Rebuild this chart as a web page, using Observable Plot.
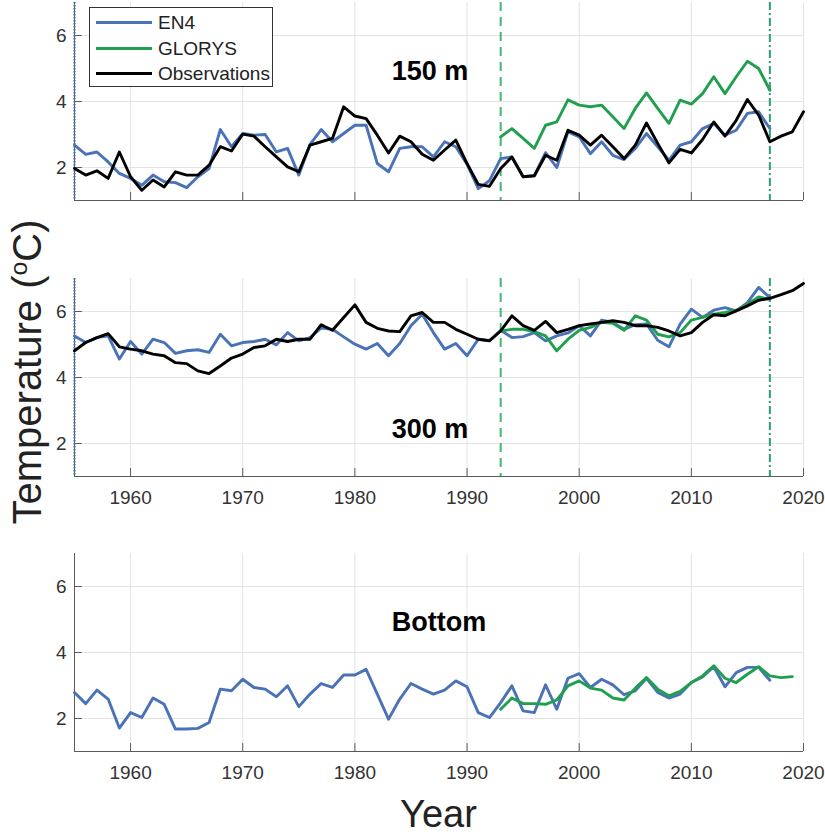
<!DOCTYPE html>
<html>
<head>
<meta charset="utf-8">
<script src="https://cdn.jsdelivr.net/npm/d3@7"></script>
<script src="https://cdn.jsdelivr.net/npm/@observablehq/plot@0.6"></script>
<style>
  body { margin: 0; background: #fff; }
  #fig { position: relative; width: 825px; height: 834px; overflow: hidden;
         font-family: "Liberation Sans", Arial, sans-serif; background: #fff; }
  .panel { position: absolute; left: 0; }
  #ylab { position: absolute; left: 27px; top: 372px; white-space: nowrap;
          font-size: 40px; color: #222; transform: translate(-50%, -50%) rotate(-90deg); }
  #ylab sup { font-size: 0.62em; vertical-align: 0.55em; line-height: 0; }
  #xlab { position: absolute; left: 74px; width: 729px; top: 795px; text-align: center;
          font-size: 38px; line-height: 1; color: #222; }
  #legend { position: absolute; left: 89px; top: 7px; width: 182px; height: 78px;
            border: 1px solid #333; background: #fff; }
  .entry { position: absolute; left: 0; height: 24px; font-size: 19px; color: #222; }
  .entry .swatch { position: absolute; left: 6px; top: 10px; width: 56px; height: 3px; }
  .entry .name { position: absolute; left: 68px; top: 1px; white-space: nowrap; line-height: 22px; }
</style>
</head>
<body>
<div id="fig">
  <div id="ylab">Temperature (<sup>o</sup>C)</div>
  <div id="xlab">Year</div>
</div>
<script>
// Annual series, 1955–2020
const years = [1955,1956,1957,1958,1959,1960,1961,1962,1963,1964,1965,1966,1967,1968,1969,
  1970,1971,1972,1973,1974,1975,1976,1977,1978,1979,1980,1981,1982,1983,1984,1985,1986,1987,
  1988,1989,1990,1991,1992,1993,1994,1995,1996,1997,1998,1999,2000,2001,2002,2003,2004,2005,
  2006,2007,2008,2009,2010,2011,2012,2013,2014,2015,2016,2017,2018,2019,2020];
const en4Years = years.slice(0, 63);          // 1955–2017
const glorysYears = years.slice(38, 63);      // 1993–2017
const glorysBottomYears = years.slice(38, 65);// 1993–2019

// 150 m
const en4_150 = [2.68,2.40,2.47,2.17,1.82,1.67,1.46,1.77,1.57,1.54,1.39,1.72,1.97,3.15,2.63,
  3.03,2.98,3.00,2.47,2.58,1.77,2.70,3.15,2.78,3.03,3.28,3.28,2.12,1.87,2.58,2.63,2.63,2.32,
  2.78,2.63,2.10,1.36,1.60,2.27,2.32,1.72,1.75,2.45,2.00,3.08,2.93,2.42,2.78,2.37,2.24,2.58,
  3.03,2.63,2.22,2.68,2.78,3.18,3.33,2.98,3.13,3.64,3.69,3.18];
const glorys_150 = [2.93,3.18,2.88,2.58,3.28,3.38,4.05,3.89,3.84,3.89,3.54,3.18,3.79,4.26,
  3.79,3.34,4.04,3.92,4.24,4.75,4.24,4.75,5.22,5.00,4.34];
const obs_150 = [1.97,1.77,1.90,1.67,2.47,1.72,1.31,1.62,1.41,1.87,1.77,1.77,2.07,2.63,2.50,
  3.01,2.95,2.63,2.32,2.02,1.87,2.68,2.78,2.88,3.84,3.56,3.48,2.98,2.44,2.95,2.78,2.40,2.22,
  2.53,2.83,2.12,1.49,1.43,1.97,2.32,1.72,1.75,2.37,2.22,3.13,2.98,2.68,2.98,2.63,2.27,2.68,
  3.35,2.73,2.14,2.55,2.44,2.85,3.38,2.95,3.43,4.06,3.59,2.78,2.95,3.08,3.69];

// 300 m
const en4_300 = [5.26,5.06,5.21,5.26,4.56,5.09,4.71,5.16,5.06,4.73,4.81,4.84,4.76,5.31,4.96,
  5.06,5.09,5.16,4.99,5.36,5.11,5.21,5.50,5.46,5.23,5.01,4.86,5.03,4.66,5.03,5.57,5.92,5.36,
  4.86,5.03,4.66,5.16,5.12,5.43,5.21,5.24,5.36,5.11,5.26,5.35,5.57,5.26,5.74,5.67,5.46,5.60,
  5.62,5.13,4.93,5.62,6.07,5.82,6.04,6.12,6.02,6.27,6.73,6.42];
const glorys_300 = [5.41,5.46,5.46,5.39,5.26,4.81,5.16,5.43,5.52,5.67,5.64,5.43,5.87,5.74,
  5.31,5.23,5.36,5.74,5.82,5.92,5.97,6.04,6.22,6.44,6.37];
const obs_300 = [4.81,5.06,5.21,5.33,4.93,4.86,4.81,4.71,4.66,4.45,4.42,4.20,4.12,4.35,4.59,
  4.71,4.91,4.96,5.16,5.09,5.16,5.16,5.60,5.43,5.82,6.20,5.67,5.49,5.41,5.39,5.87,5.97,5.67,
  5.67,5.46,5.31,5.16,5.11,5.41,5.87,5.57,5.43,5.70,5.36,5.46,5.57,5.62,5.67,5.72,5.67,5.57,
  5.57,5.52,5.41,5.26,5.36,5.67,5.90,5.87,6.02,6.17,6.34,6.40,6.51,6.63,6.85];

// Bottom
const en4_bottom = [2.79,2.45,2.86,2.59,1.71,2.18,2.03,2.62,2.43,1.68,1.68,1.70,1.88,2.89,2.84,
  3.19,2.94,2.89,2.66,2.99,2.36,2.74,3.06,2.94,3.32,3.32,3.49,2.74,1.98,2.59,3.06,2.89,2.74,
  2.86,3.14,2.96,2.18,2.03,2.48,2.99,2.23,2.18,3.02,2.28,3.22,3.36,2.94,3.19,3.02,2.72,2.84,
  3.22,2.79,2.62,2.74,3.09,3.26,3.57,2.96,3.39,3.55,3.55,3.16];
const glorys_bottom = [2.28,2.62,2.45,2.45,2.43,2.56,2.99,3.14,2.92,2.86,2.62,2.56,2.92,3.24,
  2.89,2.69,2.82,3.09,3.29,3.60,3.22,3.09,3.34,3.57,3.29,3.24,3.27];

const seriesNames = ["EN4", "GLORYS", "Observations"];
const xTicks = [1960, 1970, 1980, 1990, 2000, 2010, 2020];
const yTicks = [2, 4, 6];
const xDomain = [1955, 2020];
const yDomain = [1, 7];
const reanalysisStart = 1993;
const reanalysisEnd = 2017;

const COLORS = { EN4: "#4a72b6", GLORYS: "#20a04f", Observations: "#000000" };
const AXIS = "#5a5a5a";
const GRID = "#e3e3e3";
const FONT = '"Liberation Sans", Arial, sans-serif';

const zip = (ys, vs) => vs.map((v, i) => ({ year: ys[i], value: v }));

function panel({ top, height, marginTop, marginBottom, showXLabels, showMarkers,
                 en4, glorys, gYears, obs, label, labelAt }) {
  const marks = [
    Plot.gridX(xTicks, { stroke: GRID, strokeOpacity: 1 }),
    Plot.gridY(yTicks, { stroke: GRID, strokeOpacity: 1 }),
    Plot.ruleY([yDomain[0]], { stroke: AXIS }),
    Plot.ruleX([xDomain[0]], { stroke: AXIS }),
    // inward tick marks
    Plot.ruleX(xTicks, { y1: yDomain[0], y2: yDomain[0] + 0.24, stroke: AXIS }),
    Plot.ruleY(yTicks, { x1: xDomain[0], x2: xDomain[0] + 0.7, stroke: AXIS }),
    Plot.axisY(yTicks, { tickSize: 0, tickPadding: 8, fontSize: 19, fill: "#333", label: null })
  ];
  if (showXLabels) {
    marks.push(Plot.axisX(xTicks, { tickSize: 0, tickPadding: 14, fontSize: 19, fill: "#333",
      label: null, tickFormat: d => String(d) }));
  }
  if (showMarkers) {
    marks.push(
      Plot.ruleX([xDomain[0]], { stroke: COLORS.EN4, strokeWidth: 2.2, strokeDasharray: "1.5,1.5" }),
      Plot.ruleX([reanalysisStart], { stroke: "#45b774", strokeWidth: 2, strokeDasharray: "9,6" }),
      Plot.ruleX([reanalysisEnd], { stroke: "#2c9c80", strokeWidth: 2, strokeDasharray: "8,3,2,3" })
    );
  }
  marks.push(
    Plot.line(zip(en4Years, en4), { x: "year", y: "value", stroke: COLORS.EN4, strokeWidth: 2.9 }),
    Plot.line(zip(gYears, glorys), { x: "year", y: "value", stroke: COLORS.GLORYS, strokeWidth: 2.9 })
  );
  if (obs) {
    marks.push(Plot.line(zip(years, obs), { x: "year", y: "value", stroke: COLORS.Observations, strokeWidth: 2.9 }));
  }
  marks.push(Plot.text([label], { x: labelAt[0], y: labelAt[1], text: d => d, fontSize: 27,
    fontWeight: "bold", fill: "#000", textAnchor: "middle", lineAnchor: "bottom" }));

  const svg = Plot.plot({
    width: 825, height, marginLeft: 74, marginRight: 22, marginTop, marginBottom,
    x: { domain: xDomain, axis: null },
    y: { domain: yDomain, axis: null },
    style: { fontFamily: FONT, background: "transparent", overflow: "visible" },
    marks
  });
  svg.classList.add("panel");
  svg.style.top = top + "px";
  return svg;
}

const fig = document.getElementById("fig");
fig.appendChild(panel({ top: 0, height: 210, marginTop: 2, marginBottom: 10, showXLabels: false,
  showMarkers: true, en4: en4_150, glorys: glorys_150, gYears: glorysYears, obs: obs_150,
  label: "150 m", labelAt: [1986.7, 4.65] }));
fig.appendChild(panel({ top: 268, height: 240, marginTop: 10, marginBottom: 32, showXLabels: true,
  showMarkers: true, en4: en4_300, glorys: glorys_300, gYears: glorysYears, obs: obs_300,
  label: "300 m", labelAt: [1986.7, 2.18] }));
fig.appendChild(panel({ top: 543, height: 240, marginTop: 10, marginBottom: 32, showXLabels: true,
  showMarkers: false, en4: en4_bottom, glorys: glorys_bottom, gYears: glorysBottomYears, obs: null,
  label: "Bottom", labelAt: [1987.5, 4.66] }));

// Legend
const legend = document.createElement("div");
legend.id = "legend";
seriesNames.forEach((name, i) => {
  const row = document.createElement("div");
  row.className = "entry";
  row.style.top = (3 + i * 25.5) + "px";
  const sw = document.createElement("span");
  sw.className = "swatch";
  sw.style.background = COLORS[name];
  const tx = document.createElement("span");
  tx.className = "name";
  tx.textContent = name;
  row.appendChild(sw);
  row.appendChild(tx);
  legend.appendChild(row);
});
fig.appendChild(legend);
</script>
</body>
</html>
